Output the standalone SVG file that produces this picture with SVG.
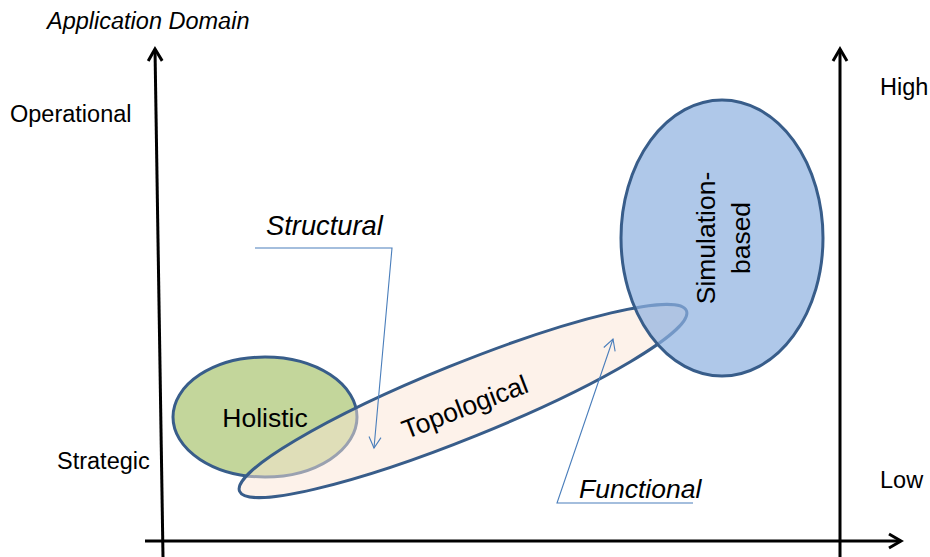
<svg xmlns="http://www.w3.org/2000/svg" width="930" height="557" viewBox="0 0 930 557">
<style>
  .lbl { font-family: "Liberation Sans", Arial, sans-serif; fill: #000; }
  .axis-lbl { font-size: 23.5px; }
  .node-lbl { font-size: 26.5px; }
  .it { font-style: italic; }
  .ell { stroke: #385d8a; stroke-width: 3; }
  .axis { stroke: #000; stroke-width: 3; fill: none; }
  .callout { stroke: #4a7ebb; stroke-width: 1.1; fill: none; }
</style>
<defs>
  <marker id="axisHead" markerUnits="userSpaceOnUse" markerWidth="30" markerHeight="30" viewBox="-15 -15 30 30" refX="0" refY="0" orient="auto" overflow="visible">
    <path d="M-12,-7 L0,0 L-12,7" fill="none" stroke="#000" stroke-width="3"/>
  </marker>
  <marker id="calloutHead" markerUnits="userSpaceOnUse" markerWidth="30" markerHeight="30" viewBox="-15 -15 30 30" refX="0" refY="0" orient="auto" overflow="visible">
    <path d="M-11,-6 L0,0 L-11,6" fill="none" stroke="#4a7ebb" stroke-width="1.1"/>
  </marker>
</defs>
<rect width="930" height="557" fill="#fff"/>

<g id="axes">
  <line class="axis" x1="163" y1="557" x2="155" y2="49" marker-end="url(#axisHead)"/>
  <line class="axis" x1="840" y1="557" x2="840" y2="49" marker-end="url(#axisHead)"/>
  <line class="axis" x1="145" y1="541" x2="901" y2="541" marker-end="url(#axisHead)"/>
</g>

<g id="axis-labels">
  <text class="lbl axis-lbl it" x="47" y="29">Application Domain</text>
  <text class="lbl axis-lbl" x="10" y="122">Operational</text>
  <text class="lbl axis-lbl" x="57" y="469">Strategic</text>
  <text class="lbl axis-lbl" x="880" y="95">High</text>
  <text class="lbl axis-lbl" x="880" y="488">Low</text>
</g>

<g id="holistic">
  <ellipse class="ell" cx="265" cy="417" rx="92" ry="60" fill="#c3d69b"/>
</g>

<g id="topological">
  <ellipse class="ell" cx="463" cy="401" rx="241" ry="37" transform="rotate(-22 463 401)" fill="#fbe5d6" fill-opacity="0.5"/>
</g>

<g id="simulation-based">
  <ellipse class="ell" cx="722" cy="238" rx="101" ry="138" fill="#8db0df" fill-opacity="0.7"/>
</g>

<g id="node-labels">
  <text class="lbl node-lbl" x="265" y="427" text-anchor="middle">Holistic</text>
  <text class="lbl node-lbl" transform="translate(465 407) rotate(-21)" x="0" y="9" text-anchor="middle">Topological</text>
  <g transform="translate(722 238) rotate(-90)">
    <text class="lbl node-lbl" x="0" y="-7" text-anchor="middle">Simulation-</text>
    <text class="lbl node-lbl" x="0" y="28" text-anchor="middle">based</text>
  </g>
</g>

<g id="structural">
  <text class="lbl node-lbl it" x="266" y="235" style="font-size:27.3px">Structural</text>
</g>

<g id="functional">
  <text class="lbl node-lbl it" x="579" y="498">Functional</text>
</g>

<g id="connectors">
  <polyline class="callout" points="255,248 392,248 374,448" marker-end="url(#calloutHead)"/>
  <polyline class="callout" points="693,503 557,503 613,339" marker-end="url(#calloutHead)"/>
</g>
</svg>
